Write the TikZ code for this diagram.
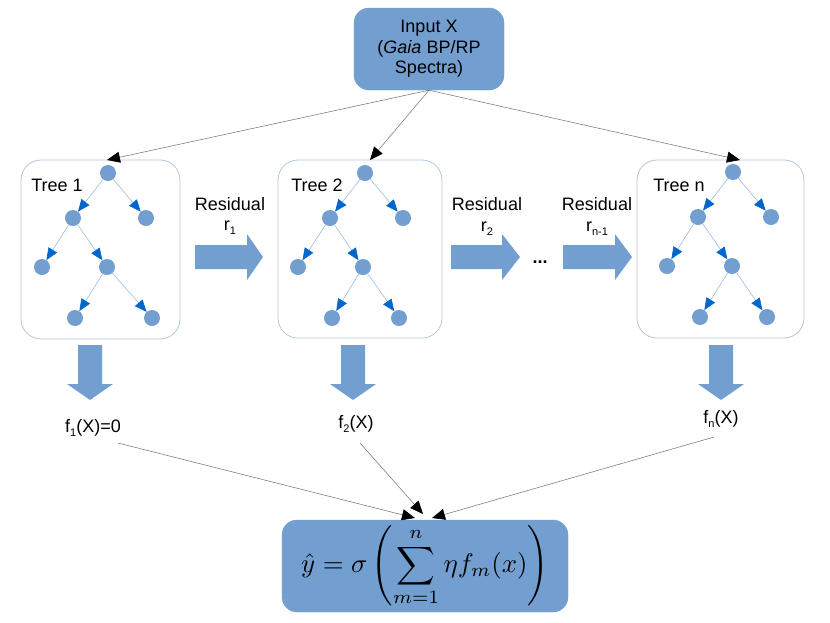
\documentclass[tikz,border=0pt]{standalone}
\usepackage{amsmath}
\usepackage{graphicx}
\usepackage{fontspec}
\setmainfont{Liberation Sans}
\usetikzlibrary{arrows.meta}
\definecolor{boxblue}{HTML}{729FCF}
\definecolor{treeline}{HTML}{B4C7DC}
\definecolor{edgeblue}{HTML}{9DBBE3}
\definecolor{tipblue}{HTML}{0066CC}
\newcommand\sbs[1]{\raisebox{-0.45ex}{\fontsize{11}{11}\selectfont #1}}
\newcommand\mktree[8]{%
  \node[leaf] (#1r) at #2 {};
  \node[leaf] (#1a) at #3 {};
  \node[leaf] (#1b) at #4 {};
  \node[leaf] (#1c) at #5 {};
  \node[leaf] (#1d) at #6 {};
  \node[leaf] (#1e) at #7 {};
  \node[leaf] (#1f) at #8 {};
  \draw[tedge] (#1r) -- (#1a);
  \draw[tedge] (#1r) -- (#1b);
  \draw[tedge] (#1a) -- (#1c);
  \draw[tedge] (#1a) -- (#1d);
  \draw[tedge] (#1d) -- (#1e);
  \draw[tedge] (#1d) -- (#1f);
}
\newcommand\rarrow[4]{% left, headstart, tip, ycenter
  \fill[boxblue] (#1,#4-12) -- (#2,#4-12) -- (#2,#4-23) -- (#3,#4) -- (#2,#4+23) -- (#2,#4+12) -- (#1,#4+12) -- cycle;}
\newcommand\darrow[1]{% x center
  \fill[boxblue] (#1-12,345) -- (#1+12,345) -- (#1+12,384) -- (#1+23,384) -- (#1,400) -- (#1-23,384) -- (#1-12,384) -- cycle;}
\begin{document}
\begin{tikzpicture}[x=1pt,y=-1pt,
  every node/.style={font=\fontsize{18}{20.5}\selectfont},
  bluebox/.style={fill=boxblue, draw=boxblue, rounded corners=15pt, align=center, inner sep=0pt},
  treebox/.style={draw=treeline, line width=0.8pt, rounded corners=20pt},
  leaf/.style={circle, fill=boxblue, minimum size=16pt, inner sep=0pt},
  tedge/.style={draw=edgeblue, line width=0.6pt, -{Triangle[length=12pt,width=10pt,color=tipblue]}},
  garrow/.style={draw=gray, line width=0.6pt, -{Triangle[length=13pt,width=11pt,color=black]}},
  lab/.style={inner sep=0pt}]
\useasboundingbox (0,0) rectangle (830,622);
% input
\node[bluebox, minimum width=150pt, minimum height=82pt] (in) at (429,49)
  {Input X\\(\textit{Gaia} BP/RP\\Spectra)};
% tree boxes
\draw[treebox] (21,160) rectangle (180,339);
\draw[treebox] (278,160) rectangle (442,338);
\draw[treebox] (637,160) rectangle (804,338);
\node[lab] (tl1) at (57,185) {Tree 1};
\node[lab] (tl2) at (317,185) {Tree 2};
\node[lab] (tln) at (679,185) {Tree n};
\mktree{p}{(108,173)}{(73,218)}{(146,218)}{(42,267)}{(107,267)}{(75,318)}{(152,318)}
\mktree{q}{(365,173)}{(330,218)}{(403,218)}{(298,267)}{(363,267)}{(332,318)}{(399,318)}
\mktree{s}{(733,172)}{(698,217)}{(771,217)}{(667,266)}{(732,266)}{(700,317)}{(767,317)}
% input arrows
\coordinate (e1) at (107,160);
\coordinate (e2) at (370,160);
\coordinate (e3) at (740,160);
\draw[garrow] (in.south) -- (e1);
\draw[garrow] (in.south) -- (e2);
\draw[garrow] (in.south) -- (e3);
% residual arrows
\rarrow{195}{247}{263}{257}
\rarrow{451}{502}{520}{257}
\rarrow{563}{615}{632}{257}
\node[lab] (res1) at (230,204) {Residual};
\node[lab] (r1) at (230,228) {r\sbs{1}};
\node[lab] (res2) at (487,204) {Residual};
\node[lab] (r2) at (487,229) {r\sbs{2}};
\node[lab] (res3) at (597,204) {Residual};
\node[lab] (r3) at (597,229) {r\sbs{n-1}};
\node[lab] (dots) at (540,262) {\textbf{...}};
% down arrows
\darrow{90}
\darrow{353}
\darrow{721}
\node[lab] (f1) at (93,428) {f\sbs{1}(X)=0};
\node[lab] (f2) at (356,424) {f\sbs{2}(X)};
\node[lab] (fn) at (721,419) {f\sbs{n}(X)};
% formula
\node[bluebox, minimum width=286pt, minimum height=92pt] (out) at (425,566)
  {\fontsize{10}{12}\selectfont\scalebox{2.68}{$\displaystyle \hat{y}=\sigma\left(\sum_{m=1}^{n}\eta f_m(x)\right)$}};
\coordinate (s1) at (118,443);
\coordinate (s2) at (360,443);
\coordinate (s3) at (714,437);
\coordinate (g1) at (415,518);
\coordinate (g2) at (423,514);
\coordinate (g3) at (432,518);
\draw[garrow] (s1) -- (g1);
\draw[garrow] (s2) -- (g2);
\draw[garrow] (s3) -- (g3);
\end{tikzpicture}
\end{document}
